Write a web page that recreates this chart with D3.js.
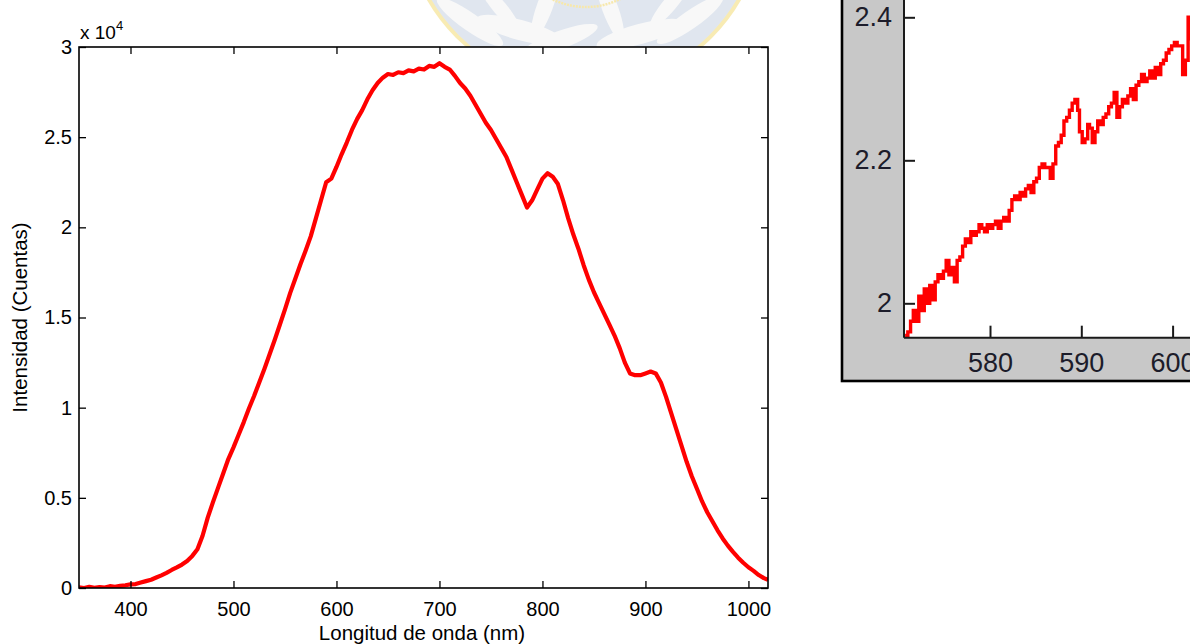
<!DOCTYPE html>
<html>
<head>
<meta charset="utf-8">
<script src="https://cdn.jsdelivr.net/npm/d3@7"></script>
<style>
  html, body { margin: 0; padding: 0; background: #fff; }
  svg { display: block; font-family: Arial, "Liberation Sans", sans-serif; }
</style>
</head>
<body>
<svg id="chart" width="1190" height="644"></svg>
<script>
// Emission spectrum: wavelength (nm) and intensity (x 10^4 counts)
const wavelength = [
  350,355,360,365,370,375,380,385,390,395,400,405,410,415,420,425,430,435,440,445,
  450,455,460,465,470,475,480,485,490,495,500,505,510,515,520,525,530,535,540,545,
  550,555,560,565,570,575,580,585,590,595,600,605,610,615,620,625,630,635,640,645,
  650,655,660,665,670,675,680,685,690,695,700,705,710,715,720,725,730,735,740,745,
  750,755,760,765,770,775,780,785,790,795,800,805,810,815,820,825,830,835,840,845,
  850,855,860,865,870,875,880,885,890,895,900,905,910,915,920,925,930,935,940,945,
  950,955,960,965,970,975,980,985,990,995,1000,1005,1010,1015,1019
];
const intensity = [
  0.003,0.000,0.006,0.001,0.005,0.002,0.010,0.006,0.012,0.015,0.020,0.022,0.030,0.038,0.046,0.058,0.070,0.084,0.100,0.114,
  0.130,0.150,0.178,0.215,0.290,0.390,0.475,0.555,0.635,0.715,0.780,0.850,0.920,0.995,1.065,1.140,1.215,1.295,1.375,1.460,
  1.545,1.635,1.715,1.795,1.870,1.950,2.050,2.150,2.250,2.270,2.335,2.405,2.470,2.540,2.600,2.650,2.710,2.760,2.800,2.830,
  2.850,2.845,2.860,2.855,2.870,2.865,2.880,2.875,2.895,2.890,2.910,2.890,2.875,2.840,2.800,2.770,2.730,2.680,2.630,2.580,
  2.540,2.490,2.440,2.390,2.320,2.250,2.180,2.110,2.150,2.210,2.270,2.300,2.280,2.240,2.150,2.050,1.960,1.880,1.790,1.710,
  1.640,1.580,1.520,1.460,1.400,1.330,1.250,1.190,1.180,1.180,1.190,1.200,1.190,1.140,1.060,0.970,0.880,0.790,0.700,0.620,
  0.550,0.480,0.420,0.370,0.320,0.275,0.235,0.200,0.168,0.140,0.115,0.095,0.072,0.055,0.045
];
const xTicks = [400, 500, 600, 700, 800, 900, 1000];
const yTicks = [0, 0.5, 1, 1.5, 2, 2.5, 3];

// Zoomed view of the rising edge
const zoomNm = [
  570.7,571.0,571.3,571.6,571.9,572.2,572.5,572.8,573.1,573.4,573.7,574.0,574.3,574.6,574.9,575.2,575.5,575.8,576.1,576.4,
  576.7,577.0,577.3,577.6,577.9,578.2,578.5,578.8,579.1,579.4,579.7,580.0,580.3,580.6,580.9,581.2,581.5,581.8,582.1,582.4,
  582.7,583.0,583.3,583.6,583.9,584.2,584.5,584.8,585.1,585.4,585.7,586.0,586.3,586.6,586.9,587.2,587.5,587.8,588.1,588.4,
  588.7,589.0,589.3,589.6,589.8,590.1,590.4,590.7,590.9,591.2,591.5,591.8,592.1,592.4,592.7,593.0,593.3,593.6,593.9,594.2,
  594.5,594.8,595.1,595.4,595.7,596.0,596.3,596.6,596.9,597.2,597.5,597.8,598.1,598.4,598.7,599.0,599.3,599.6,599.9,600.2,
  600.5,600.8,601.1,601.4,601.7,602.0,602.3,602.6,603.0
];
const zoomVal = [
  1.955,1.960,1.975,1.990,1.975,2.010,1.990,2.020,2.000,2.025,2.005,2.030,2.040,2.035,2.045,2.060,2.040,2.050,2.030,2.060,
  2.065,2.080,2.090,2.085,2.100,2.095,2.100,2.110,2.105,2.100,2.110,2.105,2.110,2.115,2.105,2.115,2.120,2.115,2.130,2.145,
  2.150,2.145,2.155,2.150,2.160,2.165,2.155,2.170,2.175,2.190,2.195,2.190,2.190,2.175,2.195,2.220,2.225,2.235,2.255,2.260,
  2.270,2.280,2.285,2.270,2.240,2.225,2.230,2.250,2.245,2.225,2.240,2.255,2.250,2.260,2.265,2.275,2.280,2.295,2.260,2.275,
  2.285,2.280,2.290,2.300,2.285,2.305,2.310,2.320,2.310,2.315,2.325,2.315,2.330,2.320,2.335,2.340,2.350,2.355,2.360,2.365,
  2.360,2.360,2.320,2.340,2.400,2.370,2.380,2.390,2.400
];
const zoomXTicks = [580, 590, 600];
const zoomYTicks = [2, 2.2, 2.4];

const svg = d3.select("#chart");

// ---- faint emblem behind the top of the page ----
const emblem = svg.append("g").attr("opacity", 0.5);
emblem.append("circle").attr("cx", 584).attr("cy", -90).attr("r", 179)
  .attr("fill", "#c3cfe0").attr("stroke", "#f3d96a").attr("stroke-width", 4);
const leaves = [
  [470, 22, 40, 9, 35], [520, 30, 45, 10, 15], [560, 40, 40, 9, -20],
  [640, 34, 45, 10, -15], [690, 20, 40, 9, -35], [610, 8, 35, 8, 70],
  [545, 6, 35, 8, -70], [500, 8, 30, 7, 50], [670, 4, 30, 7, -50]
];
leaves.forEach(([cx, cy, rx, ry, a]) => {
  emblem.append("ellipse").attr("cx", cx).attr("cy", cy).attr("rx", rx).attr("ry", ry)
    .attr("transform", `rotate(${a},${cx},${cy})`).attr("fill", "#f3f3f3");
});
emblem.append("circle").attr("cx", 586).attr("cy", -70).attr("r", 77)
  .attr("fill", "none").attr("stroke", "#f0d25a").attr("stroke-width", 2.5)
  .attr("stroke-dasharray", "2,1");

// ---- main spectrum ----
const m = { left: 79, right: 768, top: 47, bottom: 588 };
const x = d3.scaleLinear().domain([350, 1019]).range([m.left, m.right]);
const y = d3.scaleLinear().domain([0, 3]).range([m.bottom, m.top]);

const main = svg.append("g");
main.append("rect").attr("x", m.left).attr("y", m.top)
  .attr("width", m.right - m.left).attr("height", m.bottom - m.top).attr("fill", "#fff");

main.append("defs").append("clipPath").attr("id", "mainClip")
  .append("rect").attr("x", m.left).attr("y", m.top - 4)
  .attr("width", m.right - m.left).attr("height", m.bottom - m.top + 4);

main.append("path")
  .datum(wavelength.map((w, i) => [w, intensity[i]]))
  .attr("clip-path", "url(#mainClip)")
  .attr("fill", "none").attr("stroke", "#ff0000").attr("stroke-width", 4.2)
  .attr("stroke-linejoin", "round")
  .attr("d", d3.line().x(d => x(d[0])).y(d => y(d[1])));

const tickLen = 7;
const axisFont = "20px";
// bottom axis (ticks pointing inward)
const xb = main.append("g").attr("transform", `translate(0,${m.bottom})`)
  .call(d3.axisBottom(x).tickValues(xTicks).tickSize(-tickLen).tickPadding(14).tickFormat(d3.format("d")));
// left axis
const yl = main.append("g").attr("transform", `translate(${m.left},0)`)
  .call(d3.axisLeft(y).tickValues(yTicks).tickSize(-tickLen).tickPadding(7).tickFormat(d => d));
// top and right mirror ticks
const xt = main.append("g").attr("transform", `translate(0,${m.top})`)
  .call(d3.axisTop(x).tickValues(xTicks).tickSize(-tickLen).tickFormat(""));
const yr = main.append("g").attr("transform", `translate(${m.right},0)`)
  .call(d3.axisRight(y).tickValues(yTicks).tickSize(-tickLen).tickFormat(""));
[xb, yl, xt, yr].forEach(g => {
  g.select(".domain").remove();
  g.selectAll(".tick line").attr("stroke", "#000").attr("stroke-width", 1.3);
  g.selectAll(".tick text").attr("fill", "#000").style("font-size", axisFont)
    .style("font-family", "Arial, 'Liberation Sans', sans-serif");
});
main.append("rect").attr("x", m.left).attr("y", m.top)
  .attr("width", m.right - m.left).attr("height", m.bottom - m.top)
  .attr("fill", "none").attr("stroke", "#000").attr("stroke-width", 1.6);

// exponent label
const expo = main.append("text").attr("x", m.left + 1).attr("y", m.top - 8)
  .style("font-size", "19px").attr("fill", "#000");
expo.append("tspan").text("x 10");
expo.append("tspan").attr("dy", -9).style("font-size", "13px").text("4");

main.append("text").attr("x", 422).attr("y", 640)
  .attr("text-anchor", "middle").style("font-size", "20.5px").text("Longitud de onda (nm)");
main.append("text").attr("transform", `translate(27,${(m.top + m.bottom) / 2}) rotate(-90)`)
  .attr("text-anchor", "middle").style("font-size", "20.5px").text("Intensidad (Cuentas)");

// ---- zoomed panel ----
const panel = svg.append("g");
panel.append("rect").attr("x", 842).attr("y", -5).attr("width", 360).attr("height", 386)
  .attr("fill", "#c8c8c8").attr("stroke", "#000").attr("stroke-width", 2.6);
const z = { left: 904, right: 1200, top: -5, bottom: 337.7 };
const zx = d3.scaleLinear().domain([580, 600]).range([990, 1172.6]);
const zy = d3.scaleLinear().domain([2, 2.4]).range([303.3, 17.3]);
panel.append("rect").attr("x", z.left).attr("y", z.top)
  .attr("width", z.right - z.left).attr("height", z.bottom - z.top).attr("fill", "#fff");
panel.append("defs").append("clipPath").attr("id", "zoomClip")
  .append("rect").attr("x", z.left).attr("y", z.top)
  .attr("width", z.right - z.left).attr("height", z.bottom - z.top);
panel.append("path")
  .datum(zoomNm.map((w, i) => [w, zoomVal[i]]))
  .attr("clip-path", "url(#zoomClip)")
  .attr("fill", "none").attr("stroke", "#ff0000").attr("stroke-width", 3.4)
  .attr("d", d3.line().x(d => zx(d[0])).y(d => zy(d[1])).curve(d3.curveStepAfter));

const zxAxis = panel.append("g").attr("transform", `translate(0,${z.bottom})`)
  .call(d3.axisBottom(zx).tickValues(zoomXTicks).tickSize(-12).tickPadding(15).tickFormat(d3.format("d")));
const zyAxis = panel.append("g").attr("transform", `translate(${z.left},0)`)
  .call(d3.axisLeft(zy).tickValues(zoomYTicks).tickSize(-11).tickPadding(12).tickFormat(d => d));
[zxAxis, zyAxis].forEach(g => {
  g.select(".domain").remove();
  g.selectAll(".tick line").attr("stroke", "#1a1a1a").attr("stroke-width", 2);
  g.selectAll(".tick text").attr("fill", "#1c1c2a").style("font-size", "27px")
    .style("font-family", "'Liberation Sans', Arial, sans-serif");
});
panel.append("line").attr("x1", z.left).attr("x2", z.left).attr("y1", z.top).attr("y2", z.bottom)
  .attr("stroke", "#1a1a1a").attr("stroke-width", 2);
panel.append("line").attr("x1", z.left).attr("x2", z.right).attr("y1", z.bottom).attr("y2", z.bottom)
  .attr("stroke", "#1a1a1a").attr("stroke-width", 2);
</script>
</body>
</html>
